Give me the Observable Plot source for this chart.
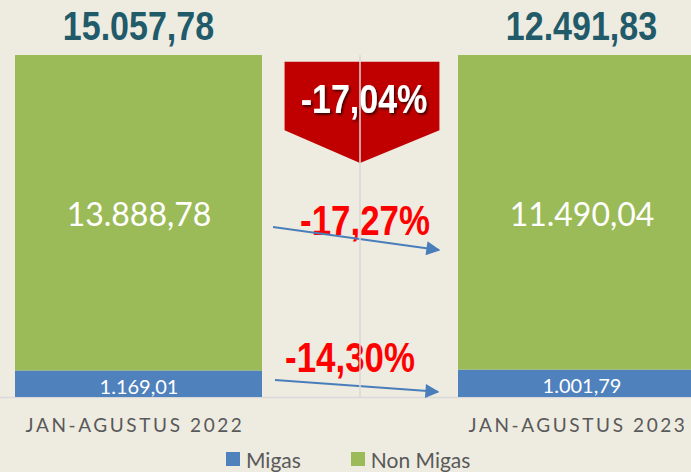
<!DOCTYPE html>
<html><head><meta charset="utf-8">
<script src="https://cdn.jsdelivr.net/npm/d3@7"></script>
<script src="https://cdn.jsdelivr.net/npm/@observablehq/plot@0.6"></script>
<style>
html,body{margin:0;padding:0;background:#eeebe1;}
body{width:691px;height:472px;overflow:hidden;}
#chart svg{display:block;overflow:hidden;}
#chart svg [aria-label="x-axis tick label"] text{letter-spacing:2.6px;}
#legend{display:flex;height:34px;align-items:center;font-family:Lato,sans-serif;font-size:21px;color:#595959;padding-left:226px;}
#legend .item{display:flex;align-items:center;margin-right:50px;}
#legend .sw{width:14px;height:14px;margin-right:6px;}
</style></head>
<body><div id="chart"></div><div id="legend"></div>
<script>
const periods = ["JAN-AGUSTUS 2022", "JAN-AGUSTUS 2023"];
const series = ["Migas", "Non Migas"];
const migas = [1169.01, 1001.79];
const nonMigas = [13888.78, 11490.04];
const totals = [15057.78, 12491.83];
const changeTotal = -17.04;
const changeNonMigas = -17.27;
const changeMigas = -14.30;
const colors = ["#4f81bd", "#9bbb59"];

const locale = d3.formatLocale({decimal: ",", thousands: ".", grouping: [3], currency: ["", ""], minus: "-"});
const fmt = locale.format(",.2f");
const pct = v => locale.format(".2f")(v) + "%";

const rows = periods.flatMap((p, i) => [
  {period: p, series: "Migas", value: migas[i]},
  {period: p, series: "Non Migas", value: nonMigas[i]}
]);

const boldFont = "'Liberation Sans', Arial, sans-serif";
const squeeze = 0.83;

function narrowText(g, x, y, str, size, fill, extra) {
  const t = g.append("g").attr("transform", `translate(${x},${y}) scale(${squeeze},1)`)
    .append("text").attr("text-anchor", "middle").attr("font-family", boldFont)
    .attr("font-weight", "bold").attr("font-size", size).attr("fill", fill).text(str);
  if (extra) extra(t);
  return t;
}

function annotate(index, scales) {
  const sx = scales.x, sy = scales.y;
  const bw = sx.bandwidth ? sx.bandwidth() : 0;
  const left0 = sx(periods[0]), left1 = sx(periods[1]);
  const r0 = left0 + bw;           // right edge of first bar
  const gap = left1 - r0;
  const mid = (r0 + left1) / 2;
  const g = d3.create("svg:g");
  const defs = g.append("defs");
  const f = defs.append("filter").attr("id", "shadow").attr("x", "-20%").attr("y", "-20%").attr("width", "140%").attr("height", "140%");
  f.append("feDropShadow").attr("dx", 2).attr("dy", 2).attr("stdDeviation", 1).attr("flood-color", "#300").attr("flood-opacity", 0.85);
  defs.append("marker").attr("id", "ah").attr("viewBox", "0 0 10 10").attr("refX", 9).attr("refY", 5)
    .attr("markerWidth", 8).attr("markerHeight", 7).attr("markerUnits", "strokeWidth").attr("orient", "auto")
    .append("path").attr("d", "M0,0L10,5L0,10Z").attr("fill", "#4a7ebb");

  // totals above bars
  periods.forEach((p, i) => {
    narrowText(g, sx(p) + bw / 2, sy(1) - 15, fmt(totals[i]), 41, "#215a69");
  });

  // red pentagon
  const cx = mid + 2, hw = gap * 0.395;
  const yTop = sy(0.98), ySh = sy(0.78), yTip = sy(0.684);
  g.append("path")
    .attr("d", `M${cx - hw},${yTop}L${cx + hw},${yTop}L${cx + hw},${ySh}L${mid},${yTip}L${cx - hw},${ySh}Z`)
    .attr("fill", "#c00000");
  narrowText(g, cx + 2, sy(0.83), pct(changeTotal), 41, "white", t => t.attr("filter", "url(#shadow)"));

  // change labels
  narrowText(g, mid + 5, sy(0.474), pct(changeNonMigas), 42, "#ff0000");
  narrowText(g, mid - 10, sy(0.073), pct(changeMigas), 42, "#ff0000");

  // arrows
  const arrows = [[0.497, 0.430, 11, 19], [0.050, 0.015, 13, 20]];
  for (const [a, b, s, e] of arrows) {
    g.append("line").attr("x1", r0 + s).attr("y1", sy(a)).attr("x2", left1 - e).attr("y2", sy(b))
      .attr("stroke", "#4a7ebb").attr("stroke-width", 2).attr("marker-end", "url(#ah)");
  }

  // vertical divider
  g.append("line").attr("x1", mid).attr("x2", mid).attr("y1", sy(1)).attr("y2", sy(0))
    .attr("stroke", "#d9d9d9").attr("stroke-width", 1.5);
  return g.node();
}

const chart = Plot.plot({
  width: 691,
  height: 442,
  marginTop: 55,
  marginBottom: 45,
  marginLeft: 0,
  marginRight: 0,
  style: {background: "transparent", fontFamily: "Lato, sans-serif"},
  x: {domain: periods, range: [14, 706], paddingInner: 0.4414, paddingOuter: 0, label: null},
  y: {domain: [0, 1], axis: null},
  color: {domain: series, range: colors},
  marks: [
    Plot.ruleY([0], {stroke: "#d9d9d9", strokeWidth: 1.5}),
    Plot.barY(rows, {x: "period", y: "value", fill: "series", offset: "normalize", order: series}),
    Plot.text(rows, Plot.stackY({
      x: "period", y: "value", z: "series", offset: "normalize", order: series,
      text: d => fmt(d.value),
      fontSize: d => d.series === "Migas" ? 20 : 32,
      dy: 3,
      fill: "white", fontFamily: "Lato, sans-serif"
    })),
    Plot.axisX({tickSize: 0, tickPadding: 21, fontSize: 19, fill: "#595959", label: null, dx: -4}),
    annotate
  ]
});
document.getElementById("chart").appendChild(chart);

const legend = d3.select("#legend");
series.forEach((s, i) => {
  const it = legend.append("div").attr("class", "item");
  it.append("div").attr("class", "sw").style("background", colors[i]);
  it.append("span").text(s);
});
</script>
</body></html>
